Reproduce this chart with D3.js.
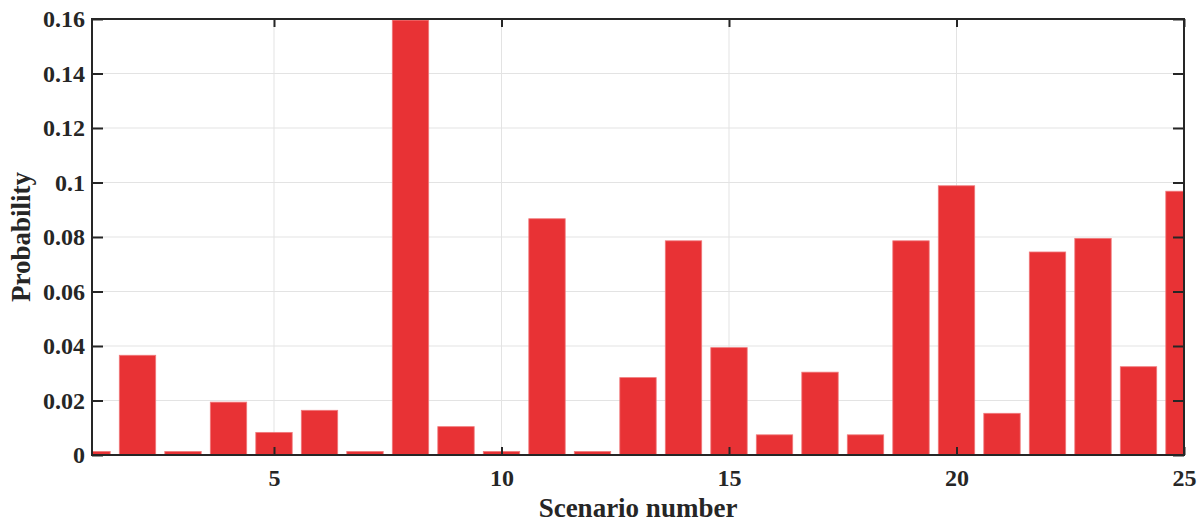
<!DOCTYPE html>
<html>
<head>
<meta charset="utf-8">
<script src="https://cdn.jsdelivr.net/npm/d3@7"></script>
<style>
    body { margin: 0; background: #fff; }
    text { font-family: "Liberation Serif", "Times New Roman", serif; font-weight: bold; fill: #262626; }
</style>
</head>
<body>
<div id="chart"></div>
<script>
// Scenario probabilities
const scenarios = d3.range(1, 26);
const probability = [
    0.0013, 0.0366, 0.0013, 0.0194, 0.0083, 0.0164, 0.0013, 0.1596, 0.0104, 0.0013,
    0.0867, 0.0013, 0.0284, 0.0786, 0.0394, 0.0074, 0.0304, 0.0074, 0.0786, 0.0988,
    0.0153, 0.0745, 0.0795, 0.0324, 0.0968
];
const xTicks = [5, 10, 15, 20, 25];
const yTicks = [0, 0.02, 0.04, 0.06, 0.08, 0.1, 0.12, 0.14, 0.16];

const width = 1204,
    height = 522,
    margin = { top: 19, right: 20, bottom: 67, left: 92 };

const data = scenarios.map((s, i) => ({ scenario: s, value: probability[i] }));

const svg = d3
    .select("#chart")
    .append("svg")
    .attr("width", width)
    .attr("height", height);

let x = d3
    .scaleLinear()
    .domain([1, 25])
    .range([margin.left, width - margin.right]);

let y = d3
    .scaleLinear()
    .domain([0, 0.16])
    .range([height - margin.bottom, margin.top]);

const step = x(2) - x(1);
const barW = step * 0.8;

// grid
svg.append("g")
    .selectAll("line")
    .data(yTicks.slice(1, -1))
    .join("line")
    .attr("x1", margin.left)
    .attr("x2", width - margin.right)
    .attr("y1", (d) => y(d))
    .attr("y2", (d) => y(d))
    .attr("stroke", "#e3e3e3")
    .attr("stroke-width", 1);

svg.append("g")
    .selectAll("line")
    .data(xTicks.slice(0, -1))
    .join("line")
    .attr("x1", (d) => x(d))
    .attr("x2", (d) => x(d))
    .attr("y1", margin.top)
    .attr("y2", height - margin.bottom)
    .attr("stroke", "#e3e3e3")
    .attr("stroke-width", 1);

// bars, clipped to the axes box
svg.append("clipPath")
    .attr("id", "plotClip")
    .append("rect")
    .attr("x", margin.left)
    .attr("y", margin.top)
    .attr("width", width - margin.left - margin.right)
    .attr("height", height - margin.top - margin.bottom);

svg.append("g")
    .attr("clip-path", "url(#plotClip)")
    .selectAll("rect")
    .data(data)
    .join("rect")
    .attr("x", (d) => x(d.scenario) - barW / 2)
    .attr("y", (d) => y(d.value))
    .attr("width", barW)
    .attr("height", (d) => y(0) - y(d.value))
    .attr("fill", "#e83235")
    .attr("stroke", "#f07a7c")
    .attr("stroke-width", 0.8);

// axes with inward ticks
svg.append("g")
    .attr("transform", `translate(0,${height - margin.bottom})`)
    .call(d3.axisBottom(x).tickValues(xTicks).tickSize(-8).tickPadding(14).tickFormat(d3.format("d")));

svg.append("g")
    .attr("transform", `translate(0,${margin.top})`)
    .call(d3.axisTop(x).tickValues(xTicks).tickSize(-8).tickFormat(""));

svg.append("g")
    .attr("transform", `translate(${margin.left},0)`)
    .call(d3.axisLeft(y).tickValues(yTicks).tickSize(-11).tickPadding(7).tickFormat((d) => d === 0 ? "0" : String(+d.toFixed(2))));

svg.append("g")
    .attr("transform", `translate(${width - margin.right},0)`)
    .call(d3.axisRight(y).tickValues(yTicks).tickSize(-11).tickFormat(""));

svg.selectAll(".tick line").attr("stroke", "#262626").attr("stroke-width", 2);
svg.selectAll(".tick text").style("font-size", "24px").attr("fill", "#262626");

// plain box instead of the axis domain paths
svg.selectAll(".domain").remove();
svg.append("rect")
    .attr("x", margin.left)
    .attr("y", margin.top)
    .attr("width", width - margin.left - margin.right)
    .attr("height", height - margin.top - margin.bottom)
    .attr("fill", "none")
    .attr("stroke", "#262626")
    .attr("stroke-width", 2);

// labels
svg.append("text")
    .attr("text-anchor", "middle")
    .attr("x", (margin.left + width - margin.right) / 2)
    .attr("y", height - 5)
    .style("font-size", "27px")
    .text("Scenario number");

svg.append("text")
    .attr("text-anchor", "middle")
    .attr("transform", `translate(30,${(margin.top + height - margin.bottom) / 2}) rotate(-90)`)
    .style("font-size", "27px")
    .text("Probability");
</script>
</body>
</html>
